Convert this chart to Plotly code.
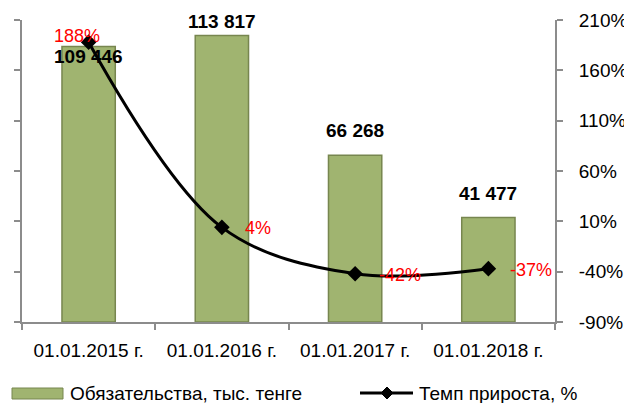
import plotly.graph_objects as go

categories = ["01.01.2015 г.", "01.01.2016 г.", "01.01.2017 г.", "01.01.2018 г."]
liabilities = [109446, 113817, 66268, 41477]
growth_pct = [188, 4, -42, -37]
bar_name = "Обязательства, тыс. тенге"
line_name = "Темп прироста, %"

left_ticks = [0, 20000, 40000, 60000, 80000, 100000, 120000]
right_ticks = [-90, -40, 10, 60, 110, 160, 210]

# label offsets (pixels) for the data labels
bar_label_dy = [-10, 14, 25, 24]
pct_label_dx = [-12, 36, 45, 43]
pct_label_dy = [6, -1, -1, -1]

FONT = "Liberation Sans"
W, H = 624, 403
L, R, T, B = 22, 69, 20, 81
pw, ph = W - L - R, H - T - B


def px(xp):
    return (xp - L) / pw


def py(yp):
    return (H - B - yp) / ph


fig = go.Figure()
fig.add_trace(go.Bar(
    x=categories, y=liabilities, name=bar_name, width=0.4,
    marker=dict(color="#a0b470", line=dict(color="#77864f", width=1.5)),
    showlegend=False, yaxis="y",
))
fig.add_trace(go.Scatter(
    x=categories, y=growth_pct, name=line_name, yaxis="y2",
    mode="lines+markers", line=dict(color="black", width=3, shape="spline", smoothing=1.0),
    marker=dict(symbol="diamond", size=12, color="black"),
    showlegend=False,
))

ann = []
for c, v, dy in zip(categories, liabilities, bar_label_dy):
    ann.append(dict(x=c, y=v, xref="x", yref="y", text="<b>" + f"{v:,}".replace(",", " ") + "</b>",
                    showarrow=False, yshift=dy, yanchor="middle",
                    font=dict(family=FONT, size=19, color="black")))
for c, v, dx, dy in zip(categories, growth_pct, pct_label_dx, pct_label_dy):
    ann.append(dict(x=c, y=v, xref="x", yref="y2", text=f"{v}%",
                    showarrow=False, xshift=dx, yshift=dy, yanchor="middle",
                    font=dict(family=FONT, size=18, color="red")))

# custom legend
ann.append(dict(x=px(68), y=py(393), xref="paper", yref="paper", text=bar_name, showarrow=False,
                xanchor="left", yanchor="middle", font=dict(family=FONT, size=19, color="black")))
ann.append(dict(x=px(417), y=py(393), xref="paper", yref="paper", text=line_name, showarrow=False,
                xanchor="left", yanchor="middle", font=dict(family=FONT, size=19, color="black")))

shapes = [
    dict(type="rect", xref="paper", yref="paper", x0=px(12), x1=px(63), y0=py(399), y1=py(388),
         fillcolor="#a0b470", line=dict(color="#77864f", width=1)),
    dict(type="line", xref="paper", yref="paper", x0=px(360), x1=px(413), y0=py(393), y1=py(393),
         line=dict(color="black", width=3)),
    dict(type="path", xref="paper", yref="paper", xsizemode="pixel", ysizemode="pixel",
         xanchor=px(387), yanchor=py(393), path="M-6,0 L0,6 L6,0 L0,-6 Z",
         fillcolor="black", line=dict(color="black", width=1)),
]

axis_line = dict(showline=True, linecolor="#8c8c8c", linewidth=2, ticks="outside",
                 tickcolor="#8c8c8c", tickwidth=2, ticklen=6, showgrid=False, zeroline=False)

fig.update_layout(
    width=W, height=H, margin=dict(l=L, r=R, t=T, b=B, autoexpand=False),
    paper_bgcolor="white", plot_bgcolor="white",
    font=dict(family=FONT, size=19, color="black"),
    xaxis=dict(**axis_line, tickson="boundaries", ticklabelstandoff=10),
    yaxis=dict(**axis_line, range=[0, 120000], tickvals=left_ticks,
               ticktext=[f"{t:,}".replace(",", " ") for t in left_ticks],
               ticklabelstandoff=12, automargin=False),
    yaxis2=dict(**axis_line, overlaying="y", side="right", range=[-90, 210], tickvals=right_ticks,
                ticktext=[f"{t}%" for t in right_ticks], ticklabelstandoff=12, automargin=False),
    annotations=ann, shapes=shapes, bargap=0.6,
)

fig.write_html("out.html", config={"displayModeBar": False},
               post_script="document.body.style.margin='0';document.body.style.padding='0';")
